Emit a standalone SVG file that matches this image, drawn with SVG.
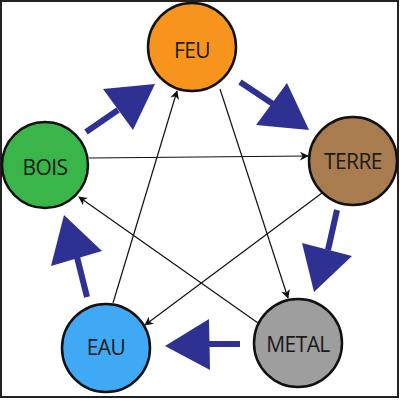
<svg xmlns="http://www.w3.org/2000/svg" width="400" height="400" viewBox="0 0 400 400">
<defs>
<style>
.node{stroke:#111;stroke-width:2.5}
.lbl{font-family:"Open Sans","Noto Sans",sans-serif;font-size:21px;fill:#1a1a1a;text-anchor:middle;letter-spacing:-0.6px}
.conn{stroke:#111;stroke-width:1.2;fill:none;marker-end:url(#ah)}
.big{fill:#2e3192}
.shaft{stroke:#2e3192;stroke-width:6;fill:none}
</style>
<marker id="ah" viewBox="0 0 10 10" refX="9" refY="5" markerWidth="9" markerHeight="9" markerUnits="userSpaceOnUse" orient="auto">
<path d="M0,0 L10,5 L0,10 L3,5 Z" fill="#111"/>
</marker>
</defs>
<rect x="0" y="0" width="400" height="400" fill="#fff"/>
<rect x="1" y="1" width="397" height="396" fill="none" stroke="#222" stroke-width="2"/>
<g id="connectors">
<line class="conn" x1="89" y1="158" x2="308" y2="156"/>
<line class="conn" x1="220" y1="89" x2="288" y2="298"/>
<line class="conn" x1="113" y1="303" x2="177" y2="91"/>
<line class="conn" x1="322" y1="193" x2="145" y2="325"/>
<line class="conn" x1="258" y1="323" x2="79" y2="197"/>
<g id="big-arrows">
<line class="shaft" x1="86" y1="132" x2="118" y2="110"/>
<polygon class="big" points="103,89 155,84 133,130"/>
<line class="shaft" x1="240" y1="82" x2="273" y2="104"/>
<polygon class="big" points="287,83 309,130 256,125"/>
<line class="shaft" x1="337" y1="210" x2="328" y2="250"/>
<polygon class="big" points="302,243 352,256 314,292"/>
<line class="shaft" x1="240" y1="344" x2="208" y2="344"/>
<polygon class="big" points="165,346 209,319 210,370"/>
<line class="shaft" x1="87" y1="297" x2="77" y2="257"/>
<polygon class="big" points="64,215 102,251 51,266"/>
</g>
</g>
<g id="feu"><circle class="node" cx="192" cy="47" r="44" fill="#f7941d"/><text class="lbl" x="192" y="58">FEU</text></g>
<g id="terre"><circle class="node" cx="353" cy="161" r="44" fill="#a97c50"/><text class="lbl" x="353" y="169">TERRE</text></g>
<g id="bois"><circle class="node" cx="45" cy="165" r="43" fill="#39b54a"/><text class="lbl" x="45" y="175">BOIS</text></g>
<g id="eau"><circle class="node" cx="106" cy="348" r="44" fill="#3fa9f5"/><text class="lbl" x="106" y="355">EAU</text></g>
<g id="metal"><circle class="node" cx="298" cy="343" r="44" fill="#9e9e9e"/><text class="lbl" x="298" y="352">METAL</text></g>
</svg>
